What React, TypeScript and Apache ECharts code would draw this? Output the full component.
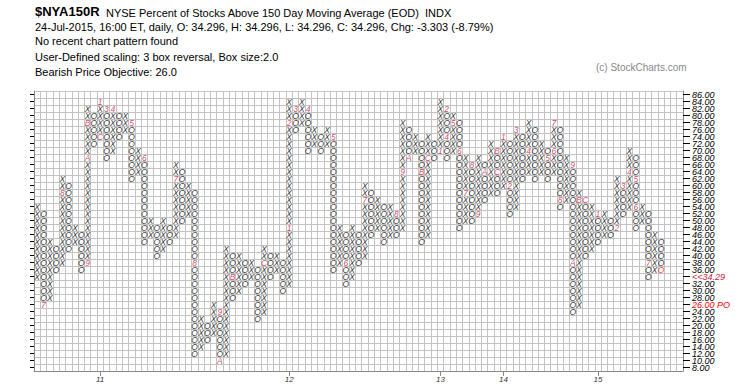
import React, { useEffect, useRef } from 'react';
import * as echarts from 'echarts';

// Row (box) labels, box size 2.0
const rowLabels = ['8.00','10.00','12.00','14.00','16.00','18.00','20.00','22.00','24.00','26.00','28.00','30.00','32.00','34.00','36.00','38.00','40.00','42.00','44.00','46.00','48.00','50.00','52.00','54.00','56.00','58.00','60.00','62.00','64.00','66.00','68.00','70.00','72.00','74.00','76.00','78.00','80.00','82.00','84.00','86.00'];

const NUM_COLS = 103;

// Point & figure columns
const colTypes = ['X','O','X','O','X','O','X','O','X','O','X','O','X','O','X','O','X','O','X','O','X','O','X','O','X','O','X','O','X','O','X','O','X','O','X','O','X','O','X','O','X','O','X','O','X','O','X','O','X','O','X','O','X','O','X','O','X','O','X','O','X','O','X','O','X','O','X','O','X','O','X','O','X','O','X','O','X','O','X','O','X','O','X','O','X','O','X','O','X','O','X','O','X','O','X','O','X','O','X','O'];
const colLows  = [34,26,28,36,38,42,44,36,38,72,74,68,70,74,76,62,64,44,46,40,42,44,46,50,52,12,14,16,18,10,12,28,30,32,34,22,24,34,36,30,32,76,78,70,72,70,72,36,38,32,34,38,40,46,48,44,46,46,48,68,70,44,46,68,70,68,70,48,50,50,52,56,58,58,60,52,54,62,64,62,64,62,64,54,56,24,26,40,42,44,46,46,48,52,54,48,50,34,36,36];
const colHighs = [54,52,44,42,62,60,48,46,82,80,84,82,82,80,80,78,70,68,50,48,50,48,66,64,60,58,22,20,26,24,42,40,40,38,38,36,42,40,40,38,84,82,84,82,76,74,76,74,48,46,48,46,60,58,56,54,54,52,78,76,74,72,74,72,84,82,80,78,68,66,68,66,72,70,74,72,76,74,78,76,72,70,78,76,68,66,58,56,54,52,52,50,62,60,70,68,54,52,46,44];

// Month markers: [column, box value, label]
const monthMarks: [number, number, string][] = [
  [1,26,'7'],[4,58,'8'],[8,38,'9'],[8,68,'A'],[8,78,'B'],[10,74,'C'],[10,84,'1'],[11,82,'3'],[12,82,'4'],[15,78,'5'],[17,68,'6'],
  [22,62,'7'],[25,38,'8'],[29,24,'9'],[29,10,'A'],[31,34,'B'],[36,38,'C'],[40,48,'1'],[40,78,'2'],[41,82,'3'],[43,82,'4'],[47,74,'5'],
  [49,38,'6'],[52,56,'7'],[57,52,'8'],[58,64,'9'],[59,68,'A'],[61,64,'B'],[62,68,'C'],[64,70,'1'],[65,82,'2'],[65,74,'4'],[66,78,'5'],
  [67,70,'6'],[68,58,'7'],[69,66,'8'],[70,52,'9'],[71,64,'A'],[73,70,'B'],[73,64,'C'],[74,74,'1'],[75,60,'2'],[76,76,'3'],[78,70,'4'],
  [81,68,'5'],[82,70,'6'],[82,78,'7'],[83,56,'8'],[85,66,'9'],[85,38,'A'],[86,56,'B'],[87,56,'C'],[89,52,'1'],[92,48,'2'],[93,60,'3'],
  [94,64,'4'],[95,62,'5'],[95,54,'6'],[97,38,'7']
];

// Year labels on the x axis: [column, label]
const yearLabels: [number, string][] = [[10,'11'],[40,'12'],[64,'13'],[74,'14'],[89,'15']];

const lastPrice = '34.29';
const priceObjective = '26.00';
const currentBox = 36;

const FONT = 'Liberation Sans, Arial, sans-serif';
const MARK_COLOR = '#c8173f';

export default function App() {
  const ref = useRef<HTMLDivElement>(null);
  useEffect(() => {
    const chart = echarts.init(ref.current!, null, { renderer: 'svg' });
    const rowOf = (v: number) => (v - 8) / 2;
    const markSet = new Set(monthMarks.map(m => m[0] + ':' + m[1]));
    const lastCol = colTypes.length - 1;
    const xPts: number[][] = [];
    const oPts: number[][] = [];
    const curPts: number[][] = [];
    colTypes.forEach((t, i) => {
      for (let v = colLows[i]; v <= colHighs[i]; v += 2) {
        if (markSet.has(i + ':' + v)) continue;
        if (i === lastCol && v === currentBox) { curPts.push([i, rowOf(v)]); continue; }
        (t === 'X' ? xPts : oPts).push([i, rowOf(v)]);
      }
    });
    const markPts = monthMarks.map(m => [m[0], rowOf(m[1]), m[2]]);
    const cats = Array.from({ length: NUM_COLS }, (_, i) => String(i));
    const yearMap: Record<number, string> = {};
    yearLabels.forEach(([c, l]) => { yearMap[c] = l; });

    const txt = (color: string, formatter: any) => ({
      show: true, position: 'inside', formatter, color,
      fontSize: 8.5, lineHeight: 6, fontStyle: 'italic', fontFamily: FONT,
    });
    const base = {
      type: 'scatter', symbol: 'circle', symbolSize: 1,
      itemStyle: { color: 'rgba(0,0,0,0)' }, silent: true, progressive: 0,
      xAxisIndex: 0, yAxisIndex: 0,
    };

    const option: any = {
      animation: false,
      backgroundColor: '#ffffff',
      grid: { left: 34, right: 62, top: 91, bottom: 20 },
      xAxis: {
        type: 'category', data: cats, boundaryGap: true,
        axisLine: { show: true, lineStyle: { color: '#888', width: 1 } },
        axisTick: { show: true, alignWithLabel: true, length: 5, interval: (i: number) => yearMap[i] !== undefined, lineStyle: { color: '#888' } },
        axisLabel: { show: true, interval: (i: number) => yearMap[i] !== undefined, formatter: (_v: string, i: number) => yearMap[i] || '', fontSize: 8, fontStyle: 'italic', color: '#333', fontFamily: FONT, margin: 4 },
        splitLine: { show: true, interval: 0, lineStyle: { color: '#c3c3c3', width: 1 } },
      },
      yAxis: [
        {
          type: 'category', data: rowLabels, boundaryGap: true, position: 'right',
          axisLine: { show: true, lineStyle: { color: '#888' } },
          axisTick: { show: true, alignWithLabel: true, interval: 0, length: 7, lineStyle: { color: '#000' } },
          axisLabel: {
            show: true, interval: 0, margin: 9, fontSize: 9, lineHeight: 6, fontStyle: 'italic', color: '#000', fontFamily: FONT,
            formatter: (v: string) => v === '34.00' ? '{cur|<<' + lastPrice + '}' : v === priceObjective ? '{po|' + priceObjective + ' PO}' : v,
            rich: {
              cur: { color: MARK_COLOR, fontSize: 9, lineHeight: 6, fontStyle: 'italic', fontFamily: FONT },
              po: { color: '#ff0000', fontSize: 9, lineHeight: 6, fontStyle: 'italic', fontFamily: FONT },
            },
          },
          splitLine: { show: true, interval: 0, lineStyle: { color: '#c3c3c3', width: 1 } },
        },
        {
          type: 'category', data: rowLabels, boundaryGap: true, position: 'left',
          axisLine: { show: true, lineStyle: { color: '#888' } },
          axisTick: { show: true, alignWithLabel: true, interval: 0, length: 4, lineStyle: { color: '#000' } },
          axisLabel: { show: false },
          splitLine: { show: false },
        },
      ],
      series: [
        { ...base, name: 'X', data: xPts, label: txt('#000', 'X') },
        { ...base, name: 'O', data: oPts, label: txt('#000', 'O') },
        { ...base, name: 'months', data: markPts, label: txt(MARK_COLOR, (p: any) => p.value[2]) },
        { ...base, name: 'current', data: curPts, label: txt('#ff0000', 'O') },
      ],
      graphic: [
        { type: 'text', left: 35, top: 5, style: { text: '$NYA150R', font: 'bold 13px ' + FONT, fill: '#000' } },
        { type: 'text', left: 106, top: 7, style: { text: 'NYSE Percent of Stocks Above 150 Day Moving Average (EOD)  INDX', font: '11px ' + FONT, fill: '#000' } },
        { type: 'text', left: 35, top: 21, style: { text: '24-Jul-2015, 16:00 ET, daily, O: 34.296, H: 34.296, L: 34.296, C: 34.296, Chg: -3.303 (-8.79%)', font: '11px ' + FONT, fill: '#000' } },
        { type: 'text', left: 35, top: 35, style: { text: 'No recent chart pattern found', font: '11px ' + FONT, fill: '#000' } },
        { type: 'text', left: 35, top: 51, style: { text: 'User-Defined scaling: 3 box reversal, Box size:2.0', font: '11px ' + FONT, fill: '#000' } },
        { type: 'text', left: 35, top: 66, style: { text: 'Bearish Price Objective: 26.0', font: '11px ' + FONT, fill: '#000' } },
        { type: 'text', left: 596, top: 62, style: { text: '(c) StockCharts.com', font: '10px ' + FONT, fill: '#888' } },
      ],
    };
    chart.setOption(option);
    return () => chart.dispose();
  }, []);
  return <div ref={ref} style={{ position: 'fixed', left: 0, top: 0, width: 745, height: 391, background: '#fff' }} />;
}
